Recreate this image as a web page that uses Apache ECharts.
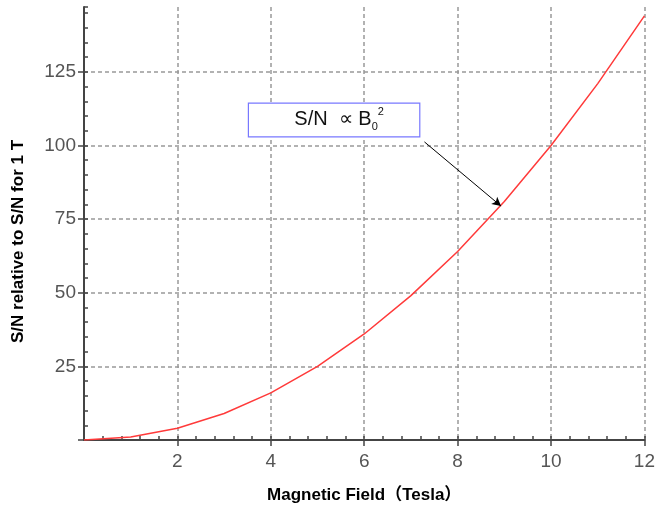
<!DOCTYPE html>
<html>
<head>
<meta charset="utf-8">
<script src="https://cdn.jsdelivr.net/npm/echarts@6/dist/echarts.min.js"></script>
<style>
  html, body { margin: 0; padding: 0; background: #fff; }
  #chart { width: 658px; height: 512px; }
</style>
</head>
<body>
<div id="chart"></div>
<script>
// field strength (Tesla) and S/N relative to 1 T
const fieldT = [0, 1, 2, 3, 4, 5, 6, 7, 8, 9, 10, 11, 12];
const snRel = [0, 1, 4, 9, 16, 25, 36, 49, 64, 81, 100, 121, 144];
const yTicks = [0, 25, 50, 75, 100, 125];
const yLabels = [25, 50, 75, 100, 125];

const chart = echarts.init(document.getElementById('chart'));

const axisColor = '#444';
const labelStyle = { color: '#555', fontSize: 19, fontFamily: 'Liberation Sans' };
const nameStyle = { color: '#000', fontSize: 17, fontWeight: 'bold', fontFamily: 'Liberation Sans, Noto Sans CJK JP' };

chart.setOption({
    animation: false,
    grid: { left: 84, right: 9, top: 7, bottom: 72 },
    xAxis: [
        {
            type: 'value', min: 0, max: 12, interval: 2,
            name: 'Magnetic Field（Tesla）',
            nameLocation: 'middle', nameGap: 47,
            nameTextStyle: nameStyle,
            axisLine: { lineStyle: { color: axisColor, width: 2 } },
            axisTick: { length: 6, lineStyle: { color: axisColor, width: 1.5 } },
            axisLabel: { showMinLabel: false, margin: 12, ...labelStyle },
            splitLine: { show: true, lineStyle: { color: '#999', type: [4, 3], width: 1.5 } }
        },
        {
            // minor ticks, pointing into the plot
            type: 'value', min: 0, max: 12, interval: 0.4, position: 'bottom',
            axisLine: { show: false },
            axisTick: { inside: true, length: 4, lineStyle: { color: axisColor, width: 1.5 } },
            axisLabel: { show: false },
            splitLine: { show: false }
        }
    ],
    yAxis: [
        {
            type: 'value', min: 0, max: 147,
            name: 'S/N relative to S/N for 1 T',
            nameLocation: 'middle', nameGap: 57,
            nameTextStyle: { ...nameStyle, padding: [0, 36, 0, 0] },
            axisLine: { lineStyle: { color: axisColor, width: 2 } },
            axisTick: { length: 6, customValues: yTicks, lineStyle: { color: axisColor, width: 1.5 } },
            axisLabel: { customValues: yLabels, margin: 8, ...labelStyle },
            splitLine: { show: true, lineStyle: { color: '#999', type: [4, 3], width: 1.5 } }
        },
        {
            type: 'value', min: 0, max: 147, interval: 5, position: 'left',
            axisLine: { show: false },
            axisTick: { inside: true, length: 4, lineStyle: { color: axisColor, width: 1.5 } },
            axisLabel: { show: false },
            splitLine: { show: false }
        }
    ],
    series: [
        {
            type: 'line',
            data: fieldT.map((x, i) => [x, snRel[i]]),
            showSymbol: false,
            lineStyle: { color: '#ff3a3a', width: 1.5 },
            z: 3,
            markArea: {
                silent: true,
                itemStyle: { color: '#fff', borderColor: '#7878ff', borderWidth: 1.2, opacity: 1 },
                label: {
                    position: 'inside',
                    formatter: '{a|S/N  \u221D B}{sub|0}{sup|2}',
                    rich: {
                        a: { fontSize: 20, color: '#111', fontFamily: 'Liberation Sans', lineHeight: 26, padding: [0, 0, 0, 10] },
                        sub: { fontSize: 11, color: '#111', fontFamily: 'Liberation Sans', verticalAlign: 'bottom', lineHeight: 26 },
                        sup: { fontSize: 11, color: '#111', fontFamily: 'Liberation Sans', verticalAlign: 'top', lineHeight: 26 }
                    }
                },
                data: [[{ coord: [3.52, 114.4] }, { coord: [7.19, 102.9] }]]
            },
            markLine: {
                silent: true,
                symbol: ['none', 'arrow'],
                symbolSize: [7, 9],
                lineStyle: { color: '#000', width: 1, type: 'solid' },
                label: { show: false },
                data: [[{ coord: [7.29, 101.2] }, { coord: [8.93, 79.4] }]]
            }
        }
    ]
});
</script>
</body>
</html>
